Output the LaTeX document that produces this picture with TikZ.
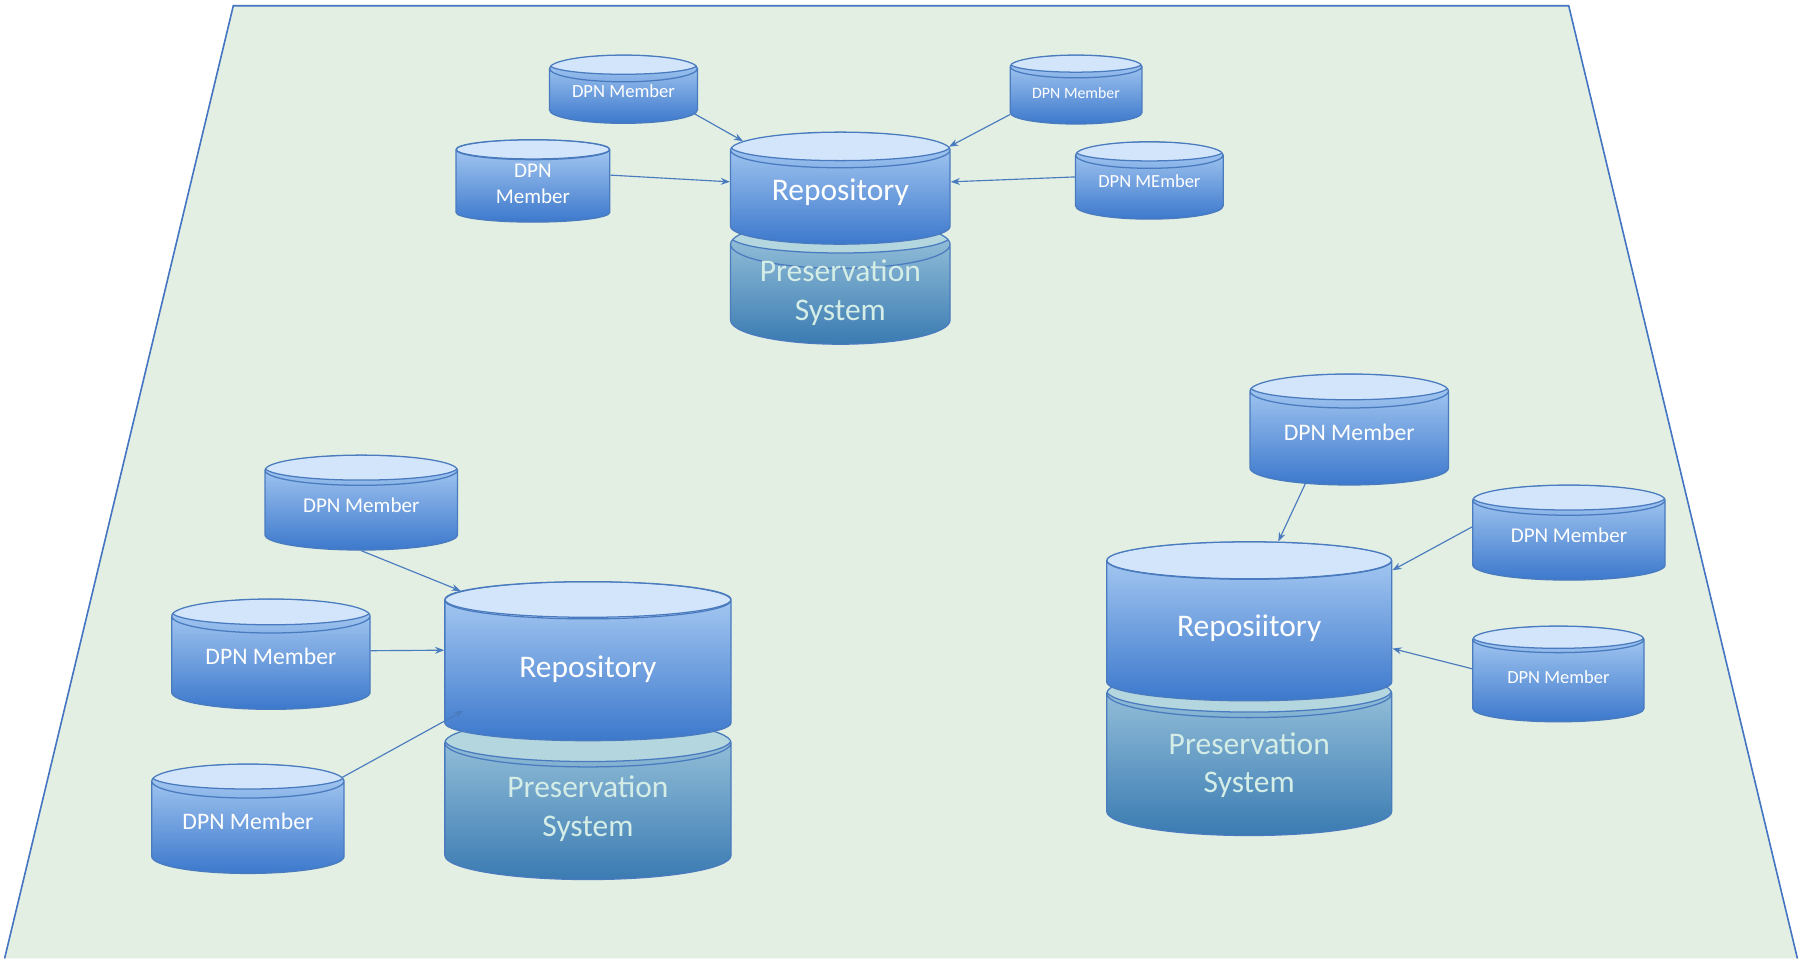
\documentclass[tikz,border=0pt]{standalone}
\usepackage{fontspec}
\setmainfont{Carlito}
\usepackage{tikz}
\usetikzlibrary{shapes.geometric,arrows.meta,calc,positioning}

\definecolor{plane}{HTML}{E2EFE2}
\definecolor{planeedge}{HTML}{4575C2}
\definecolor{rim}{HTML}{4A7BBF}
\definecolor{facelight}{HTML}{D3E5FB}
\definecolor{bodytop}{HTML}{AFD0F5}
\definecolor{bodybot}{HTML}{3C78CC}
\definecolor{presface}{HTML}{B4D6DF}
\definecolor{prestop}{HTML}{A0C8DE}
\definecolor{presbot}{HTML}{3A7BB2}
\definecolor{prestext}{HTML}{D4EDE6}

% text set a bit higher in the cylinder body
\newcommand{\lift}[3][1]{\raisebox{#2pt}[#1\height][#1\depth]{\begin{tabular}{@{}c@{}}#3\end{tabular}}}

\begin{document}
\begin{tikzpicture}[x=1pt, y=-1pt,
    drum/.style 2 args={shape=cylinder, shape border rotate=90, aspect=#2, draw=rim,
      line width=1.1pt, inner sep=0pt, anchor=shape center,
      path picture={
        \path[fill=#1, draw=rim, line width=1.1pt]
          let \p1=(path picture bounding box.west), \p2=(path picture bounding box.east) in
          ([yshift={-#2/4*(\x2-\x1)}]path picture bounding box.north)
          ellipse [x radius={0.5*(\x2-\x1)}, y radius={#2/4*(\x2-\x1)}];
      }},
    member/.style={drum={facelight}{0.26}, top color=bodytop, bottom color=bodybot, text=white,
      font=\fontsize{20.6}{25}\selectfont},
    repo/.style={member, font=\fontsize{27.4}{33.5}\selectfont},
    pres/.style={drum={presface}{0.3}, top color=prestop, bottom color=presbot, text=prestext,
      font=\fontsize{27.4}{33.5}\selectfont},
    link/.style={draw=rim, line width=1pt, -{Stealth[length=8pt, width=6pt]}}
]
    \useasboundingbox (0,0) rectangle (1568,835);

    % Plane
    \fill[plane] (4,834) -- (203,5) -- (1365,5) -- (1564,834) -- cycle;
    \draw[planeedge, line width=1.4pt] (4,834) -- (203,5) -- (1365,5) -- (1564,834);

    % Preservation systems
    \node[pres, minimum width=191, minimum height=108] (PresTop) at (731.2,245.5) {\lift[0.5]{-2.2}{Preservation\\System}};
    \node[pres, minimum width=249, minimum height=140] (PresLow) at (511.6,695.3) {\lift{2}{Preservation\\System}};
    \node[pres, minimum width=248, minimum height=144.6] (PresRight) at (1087,654.7) {\lift{-0.8}{Preservation\\System}};

    % Repositories
    \node[repo, minimum width=191, minimum height=97.5] (RepoTop) at (731.2,163.7) {\lift{4}{Repository}};
    \node[repo, minimum width=249, minimum height=138.4] (RepoLow) at (511.6,575.3) {\lift{0.5}{Repository}};
    \node[repo, minimum width=248, minimum height=138.4] (RepoRight) at (1087,540.6) {\lift{2}{Reposiitory}};

    % Members, top group
    \node[member, minimum width=128.7, minimum height=59.4, font=\fontsize{16.2}{20}\selectfont] (MemTopA) at (542.5,77.6) {\lift{2.5}{DPN Member}};
    \node[member, minimum width=133.7, minimum height=68.1, font=\fontsize{18.3}{23}\selectfont] (MemTopB) at (463.7,157.4) {\lift{0.5}{DPN\\Member}};
    \node[member, minimum width=114.6, minimum height=60, font=\fontsize{13.8}{17}\selectfont] (MemTopC) at (936.3,77.9) {\lift{1.2}{DPN Member}};
    \node[member, minimum width=128.4, minimum height=67.3, font=\fontsize{16.1}{20}\selectfont] (MemTopD) at (1000.1,157) {\lift{4}{DPN MEmber}};

    % Members, lower left group
    \node[member, minimum width=167.4, minimum height=82.6, font=\fontsize{18.3}{22.4}\selectfont] (MemLowA) at (314.3,437.3) {\lift{2.4}{DPN Member}};
    \node[member, minimum width=172.6, minimum height=96] (MemLowB) at (235.7,569.2) {\lift{3.8}{DPN Member}};
    \node[member, minimum width=167.3, minimum height=95.2] (MemLowC) at (215.7,712.4) {\lift{3.3}{DPN Member}};

    % Members, right group
    \node[member, minimum width=172.6, minimum height=96.6] (MemRightA) at (1174,373.7) {\lift{3.2}{DPN Member}};
    \node[member, minimum width=167.3, minimum height=82.7, font=\fontsize{18.3}{22.4}\selectfont] (MemRightB) at (1365.2,463.4) {\lift{2.4}{DPN Member}};
    \node[member, minimum width=149.1, minimum height=83.3, font=\fontsize{16.1}{19.6}\selectfont] (MemRightC) at (1356,586.4) {\lift{1.7}{DPN Member}};

    % Connections
    \draw[link] (MemTopA.-14.3) -- (RepoTop.150.7);
    \draw[link] (MemTopB.8.1) -- (RepoTop.172.3);
    \draw[link] (MemTopC.196.3) -- (RepoTop.25.4);
    \draw[link] (MemTopD.172.3) -- (RepoTop.8);

    \draw[link] (MemLowA.south) -- (RepoLow.148);
    \draw[link] (MemLowB.7.5) -- (RepoLow.172.4);
    \draw[link] (MemLowC.28.8) -- ($(RepoLow.shape center)+(-108.4,43.1)$);

    \draw[link] (MemRightA.226.3) -- (RepoRight.72.8);
    \draw[link] (MemRightB.172.6) -- (RepoRight.23.1);
    \draw[link] (MemRightC.172.2) -- (RepoRight.-7.4);

\end{tikzpicture}
\end{document}
